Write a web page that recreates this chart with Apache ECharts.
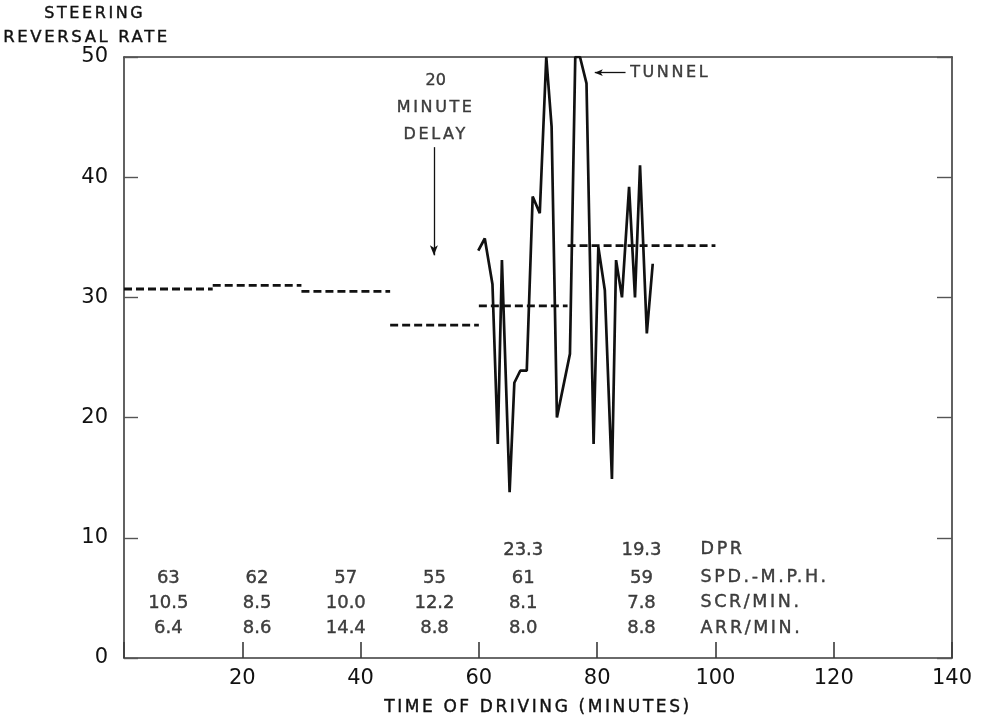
<!DOCTYPE html>
<html>
<head>
<meta charset="utf-8">
<script src="https://cdn.jsdelivr.net/npm/echarts@6/dist/echarts.min.js"></script>
<style>
html,body{margin:0;padding:0;background:#fff;}
#chart{width:985px;height:719px;}
</style>
</head>
<body>
<div id="chart"></div>
<script>
// ---- data ----
const minutes = [59.9, 61.0, 62.3, 63.2, 63.9, 65.2, 66.0, 67.0, 68.1, 69.1, 70.3, 71.4, 72.3, 73.2, 75.4, 76.3, 77.1, 78.2, 79.4, 80.2, 81.3, 82.5, 83.2, 84.2, 85.4, 86.4, 87.25, 88.4, 89.4];
const reversalRate = [33.9, 34.9, 31.1, 17.8, 33.1, 13.8, 22.9, 23.9, 23.9, 38.4, 37.0, 50, 44.2, 20.0, 25.3, 50, 50, 47.8, 17.8, 34.2, 30.6, 14.9, 33.1, 30.0, 39.2, 30.0, 41.0, 27.0, 32.8];

const segStart = [0, 15, 30, 45, 60, 75];
const segEnd = [15, 30, 45, 60, 75, 100];
const segMean = [30.7, 31.0, 30.5, 27.7, 29.3, 34.3];

const colMid = [7.5, 22.5, 37.5, 52.5, 67.5, 87.5];
const dpr = ['', '', '', '', '23.3', '19.3'];
const speed = ['63', '62', '57', '55', '61', '59'];
const scr = ['10.5', '8.5', '10.0', '12.2', '8.1', '7.8'];
const arr = ['6.4', '8.6', '14.4', '8.8', '8.0', '8.8'];
const rowNames = ['DPR', 'SPD.-M.P.H.', 'SCR/MIN.', 'ARR/MIN.'];

// ---- lettering: widen spacing of alphabetic text like the original stencil lettering ----
(function () {
  const P = CanvasRenderingContext2D.prototype;
  ['fillText', 'strokeText'].forEach(function (fn) {
    const orig = P[fn];
    P[fn] = function (t, x, y, mw) {
      const prev = this.letterSpacing;
      try { this.letterSpacing = /[A-Z]/.test(String(t)) ? '2.6px' : '0px'; } catch (e) {}
      const r = (mw === undefined) ? orig.call(this, t, x, y) : orig.call(this, t, x, y, mw);
      try { this.letterSpacing = prev; } catch (e) {}
      return r;
    };
  });
})();

// ---- chart ----
const FONT = 'DejaVu Sans';
const INK = '#111';
const AX = '#3a3a3a';
const chart = echarts.init(document.getElementById('chart'), null, {renderer: 'canvas'});

const rowY = [8.99, 6.66, 4.58, 2.49];
const rows = [dpr, speed, scr, arr];
const tableData = [];
rows.forEach((r, ri) => {
  r.forEach((t, ci) => {
    if (t !== '') tableData.push({value: [colMid[ci], rowY[ri]], name: t});
  });
});
const rowNameData = rowNames.map((n, i) => ({value: [97.4, rowY[i]], name: n}));

const segSeries = segStart.map((s, i) => ({
  type: 'line',
  data: [[s, segMean[i]], [segEnd[i], segMean[i]]],
  symbol: 'none',
  silent: true,
  lineStyle: {color: INK, width: 2.8, type: [8, 4]},
  z: 3
}));

const bold = {textBorderColor: INK, textBorderWidth: 0.4};

const option = {
  animation: false,
  backgroundColor: '#fff',
  grid: {left: 124, right: 33, top: 57, bottom: 61, containLabel: false, outerBoundsMode: 'none'},
  xAxis: [{
    type: 'value', min: 0, max: 140, interval: 20,
    name: 'TIME OF DRIVING (MINUTES)', nameLocation: 'middle', nameGap: 41,
    nameTextStyle: Object.assign({color: INK, fontFamily: FONT, fontSize: 17}, bold),
    axisLine: {show: true, onZero: false, lineStyle: {color: AX, width: 1.6}},
    axisTick: {show: true, inside: true, length: 16, lineStyle: {color: AX, width: 1.6}},
    axisLabel: {show: true, color: INK, fontFamily: FONT, fontSize: 21, margin: 10,
      formatter: v => (v === 0 ? '' : String(v))},
    splitLine: {show: false}
  }, {
    type: 'value', min: 0, max: 140, interval: 20, position: 'top',
    axisLine: {show: true, onZero: false, lineStyle: {color: AX, width: 1.6}},
    axisTick: {show: false}, axisLabel: {show: false}, splitLine: {show: false}
  }],
  yAxis: [{
    type: 'value', min: 0, max: 50, interval: 10, position: 'left',
    axisLine: {show: true, onZero: false, lineStyle: {color: AX, width: 1.6}},
    axisTick: {show: true, inside: true, length: 14, lineStyle: {color: '#555', width: 1.4}},
    axisLabel: {show: true, color: INK, fontFamily: FONT, fontSize: 21, margin: 16},
    splitLine: {show: false}
  }, {
    type: 'value', min: 0, max: 50, interval: 10, position: 'right',
    axisLine: {show: true, onZero: false, lineStyle: {color: AX, width: 1.6}},
    axisTick: {show: true, inside: true, length: 15, lineStyle: {color: '#555', width: 1.4}},
    axisLabel: {show: false}, splitLine: {show: false}
  }],
  graphic: [
    {type: 'text', left: 44, top: 6, style: Object.assign({text: 'STEERING', fill: INK, font: '16px "DejaVu Sans"', stroke: INK, lineWidth: 0.4})},
    {type: 'text', left: 3, top: 29, style: {text: 'REVERSAL RATE', fill: INK, font: '16.5px "DejaVu Sans"', stroke: INK, lineWidth: 0.4}}
  ],
  series: [
    {
      type: 'line',
      data: minutes.map((m, i) => [m, reversalRate[i]]),
      symbol: 'none',
      lineStyle: {color: INK, width: 2.7},
      z: 4,
      markLine: {
        silent: true,
        animation: false,
        label: {show: false},
        data: [
          [{coord: [52.4, 42.5], symbol: 'none'}, {coord: [52.4, 33.5], symbol: 'arrow', symbolSize: [6, 10]}],
          [{coord: [84.8, 48.7], symbol: 'none'}, {coord: [79.6, 48.7], symbol: 'arrow', symbolSize: [5, 8]}]
        ],
        lineStyle: {color: INK, width: 1.3, type: 'solid'}
      }
    },
    ...segSeries,
    {
      type: 'line', xAxisIndex: 1, yAxisIndex: 1, data: [], silent: true, symbol: 'none'
    },
    {
      type: 'scatter', symbolSize: 1, itemStyle: {color: 'rgba(0,0,0,0)'}, silent: true,
      data: tableData,
      label: Object.assign({show: true, position: 'inside', formatter: '{b}', color: INK, fontFamily: FONT, fontSize: 18}, bold),
      z: 5
    },
    {
      type: 'scatter', symbolSize: 1, itemStyle: {color: 'rgba(0,0,0,0)'}, silent: true,
      data: rowNameData,
      label: Object.assign({show: true, position: 'right', distance: 0, formatter: '{b}', color: INK, fontFamily: FONT, fontSize: 17.5}, bold),
      z: 5
    },
    {
      type: 'scatter', symbolSize: 1, itemStyle: {color: 'rgba(0,0,0,0)'}, silent: true,
      data: [{value: [52.7, 45.8], name: '20\nMINUTE\nDELAY'}],
      label: Object.assign({show: true, position: 'inside', formatter: '{b}', color: INK, fontFamily: FONT, fontSize: 16, lineHeight: 27, align: 'center'}, bold),
      z: 5
    },
    {
      type: 'scatter', symbolSize: 1, itemStyle: {color: 'rgba(0,0,0,0)'}, silent: true,
      data: [{value: [85.5, 48.7], name: 'TUNNEL'}],
      label: Object.assign({show: true, position: 'right', distance: 0, formatter: '{b}', color: INK, fontFamily: FONT, fontSize: 16}, bold),
      z: 5
    }
  ]
};
chart.setOption(option);
</script>
</body>
</html>
